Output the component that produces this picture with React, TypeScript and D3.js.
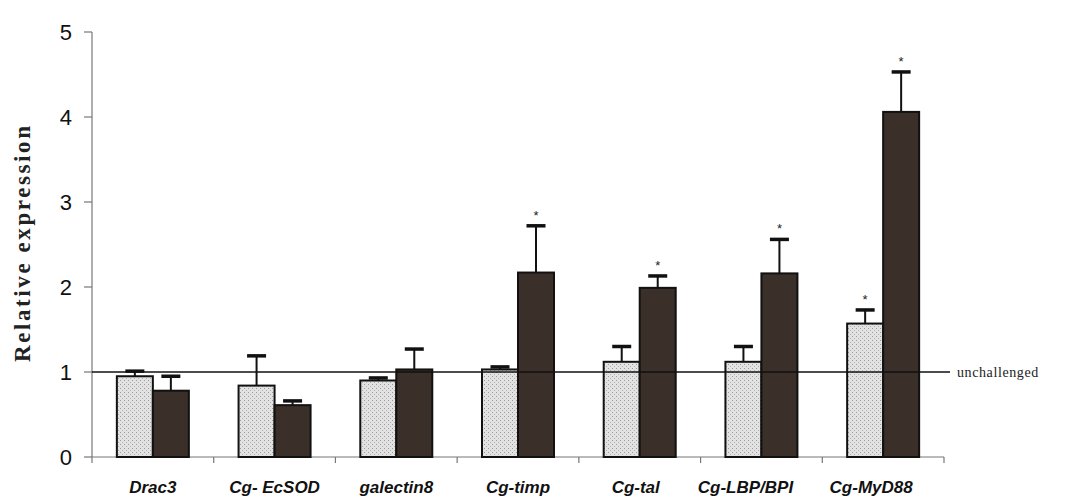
import React from 'react';
import * as d3 from 'd3';

const genes = ['Drac3', 'Cg- EcSOD', 'galectin8', 'Cg-timp', 'Cg-tal', 'Cg-LBP/BPI', 'Cg-MyD88'];
const lightVals = [0.95, 0.84, 0.9, 1.03, 1.12, 1.12, 1.57];
const lightErr = [0.06, 0.35, 0.03, 0.03, 0.18, 0.18, 0.16];
const lightStar = [false, false, false, false, false, false, true];
const darkVals = [0.78, 0.61, 1.03, 2.17, 1.99, 2.16, 4.06];
const darkErr = [0.17, 0.05, 0.24, 0.55, 0.14, 0.4, 0.47];
const darkStar = [false, false, false, true, true, true, true];
const yTicks = [0, 1, 2, 3, 4, 5];
const baseline = 1;

const W = 1074;
const H = 503;
const margin = { top: 32, right: 130, bottom: 46, left: 92 };
// the last labels are squeezed to the left in the original
const labelNudge: Record<string, number> = { 'Cg-tal': -4, 'Cg-LBP/BPI': -16, 'Cg-MyD88': -12 };

export default function App() {
  const x = d3.scaleBand().domain(genes).range([margin.left, 944]).paddingInner(0).paddingOuter(0);
  const y = d3.scaleLinear().domain([0, 5]).range([H - margin.bottom, margin.top]);
  const barW = 36;
  const capW = 19;

  const series = [
    { vals: lightVals, err: lightErr, star: lightStar, fill: 'url(#stipple)', dx: -barW },
    { vals: darkVals, err: darkErr, star: darkStar, fill: '#3b2f29', dx: 0 },
  ];

  const bandEdges = genes.map((g) => x(g)!).concat([x(genes[genes.length - 1])! + x.bandwidth()]);

  return (
    <svg width={W} height={H} style={{ position: 'absolute', left: 0, top: 0, background: '#fff' }}>
      <defs>
        <pattern id="stipple" width="4" height="4" patternUnits="userSpaceOnUse">
          <rect width="4" height="4" fill="#e2e2e2" />
          <rect x="0" y="0" width="1" height="1" fill="#9a9a9a" />
          <rect x="2" y="2" width="1" height="1" fill="#b0b0b0" />
        </pattern>
      </defs>

      {/* y axis */}
      <line x1={margin.left} x2={margin.left} y1={y(5)} y2={y(0)} stroke="#777" strokeWidth={1.2} />
      {yTicks.map((t) => (
        <g key={t}>
          <line x1={margin.left - 8} x2={margin.left} y1={y(t)} y2={y(t)} stroke="#777" strokeWidth={1.2} />
          <text x={72} y={y(t)} dy="0.36em" textAnchor="end" fontFamily="Liberation Sans, Arial, sans-serif" fontSize={22} fill="#111">
            {t}
          </text>
        </g>
      ))}
      <text
        transform={`translate(30, ${244}) rotate(-90)`}
        textAnchor="middle"
        fontFamily="Liberation Serif, Times New Roman, serif"
        fontWeight="bold"
        fontSize={23}
        textLength={236}
        lengthAdjust="spacing"
        fill="#222"
      >
        Relative expression
      </text>

      {/* x axis */}
      <line x1={margin.left} x2={bandEdges[bandEdges.length - 1]} y1={y(0)} y2={y(0)} stroke="#777" strokeWidth={1.2} />
      {bandEdges.map((e, i) => (
        <line key={i} x1={e} x2={e} y1={y(0)} y2={y(0) + 6} stroke="#777" strokeWidth={1.2} />
      ))}
      {genes.map((g) => (
        <text
          key={g}
          x={x(g)! + x.bandwidth() / 2 + (labelNudge[g] || 0)}
          y={493}
          textAnchor="middle"
          fontFamily="Liberation Sans, Arial, sans-serif"
          fontWeight="bold"
          fontStyle="italic"
          fontSize={17}
          fill="#111"
        >
          {g}
        </text>
      ))}

      {/* bars */}
      {series.map((s, si) =>
        genes.map((g, i) => {
          const cx = x(g)! + x.bandwidth() / 2 + s.dx;
          const top = y(s.vals[i]);
          const errTop = y(s.vals[i] + s.err[i]);
          const mid = cx + barW / 2;
          return (
            <g key={`${si}-${g}`}>
              <rect x={cx} y={top} width={barW} height={y(0) - top} fill={s.fill} stroke="#111" strokeWidth={2} />
              <line x1={mid} x2={mid} y1={top} y2={errTop} stroke="#111" strokeWidth={2} />
              <line x1={mid - capW / 2} x2={mid + capW / 2} y1={errTop} y2={errTop} stroke="#111" strokeWidth={3.5} />
              {s.star[i] && (
                <text x={mid} y={errTop - 6} textAnchor="middle" fontFamily="Liberation Sans, Arial, sans-serif" fontSize={13} fill="#222">
                  *
                </text>
              )}
            </g>
          );
        })
      )}

      {/* unchallenged reference line */}
      <line x1={margin.left} x2={950} y1={y(baseline)} y2={y(baseline)} stroke="#111" strokeWidth={1.6} />
      <text x={957} y={y(baseline)} dy="0.35em" fontFamily="Liberation Serif, Times New Roman, serif" fontSize={14} letterSpacing={0.6} fill="#222">
        unchallenged
      </text>
    </svg>
  );
}
